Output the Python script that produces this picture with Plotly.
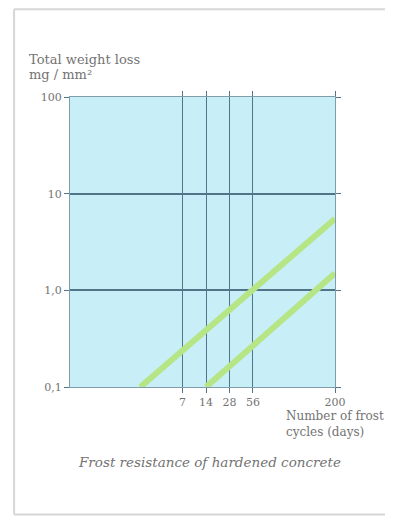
import plotly.graph_objects as go

# drawn x scale of the original: doublings evenly spaced, 200 pushed out to the edge
cycle_labels = ["7", "14", "28", "56", "200"]
cycle_scale = [4.8, 5.8, 6.8, 7.8, 11.3]

loss_ticks = [0.1, 1, 10, 100]
loss_labels = ["0,1", "1,0", "10", "100"]

# two concrete curves (scale position, weight loss)
upper_x = [3.0, 11.3]
upper_y = [0.1, 5.5]
lower_x = [5.8, 11.3]
lower_y = [0.1, 1.5]

SERIF = "DejaVu Serif"
GRID = "#527489"
EDGE = "#7f9daa"
TEXT = "#737373"
GREEN = "#b6e585"
FRAME = "#d6d6d6"

fig = go.Figure()

for xs, ys in [(upper_x, upper_y), (lower_x, lower_y)]:
    fig.add_trace(
        go.Scatter(
            x=xs,
            y=ys,
            mode="lines",
            line=dict(color=GREEN, width=6),
            hoverinfo="skip",
            showlegend=False
        )
    )

# the page body adds 8px on every side, keep the figure inside the window
fig.update_layout(
    width=377,
    height=508,
    margin=dict(l=62, r=50, t=89, b=129),
    paper_bgcolor="white",
    plot_bgcolor="#c8eef8",
    font=dict(family=SERIF, size=12, color=TEXT),
    showlegend=False
)

fig.update_xaxes(
    type="linear",
    range=[0, 11.3],
    tickvals=cycle_scale,
    ticktext=cycle_labels,
    showgrid=True,
    gridcolor=GRID,
    gridwidth=1.4,
    ticks="outside",
    ticklen=5,
    tickcolor=GRID,
    showline=True,
    linecolor=EDGE,
    linewidth=1.2,
    mirror="ticks",
    zeroline=False,
    tickfont=dict(family=SERIF, size=11, color=TEXT)
)

fig.update_yaxes(
    type="log",
    range=[-1, 2],
    tickvals=loss_ticks,
    ticktext=loss_labels,
    showgrid=True,
    gridcolor=GRID,
    gridwidth=1.8,
    ticks="outside",
    ticklen=5,
    tickcolor=GRID,
    showline=True,
    linecolor=EDGE,
    linewidth=1.2,
    mirror="ticks",
    zeroline=False,
    tickfont=dict(family=SERIF, size=11, color=TEXT)
)

# page frame: left, top and bottom edges (right edge is off the page)
left, right, bottom, top = -0.211, 1.4, -0.44, 1.303
for x0, y0, x1, y1 in [
    (left, bottom, left, top),
    (left, top, right, top),
    (left, bottom, right, bottom),
]:
    fig.add_shape(
        type="line",
        xref="paper",
        yref="paper",
        x0=x0,
        y0=y0,
        x1=x1,
        y1=y1,
        line=dict(color=FRAME, width=2),
        layer="below"
    )

texts = [
    ("Total weight loss", -0.162, 1.131, "left", 13),
    ("mg / mm²", -0.162, 1.076, "left", 13),
    ("Number of frost<br>cycles (days)", 0.807, -0.128, "left", 12),
    ("<i>Frost resistance of hardened concrete</i>", 0.528, -0.259, "center", 13.5),
]

for text, x, y, anchor, size in texts:
    fig.add_annotation(
        text=text,
        xref="paper",
        yref="paper",
        x=x,
        y=y,
        xanchor=anchor,
        yanchor="middle",
        align="left",
        showarrow=False,
        font=dict(family=SERIF, size=size, color=TEXT)
    )

fig.write_html("out.html")
